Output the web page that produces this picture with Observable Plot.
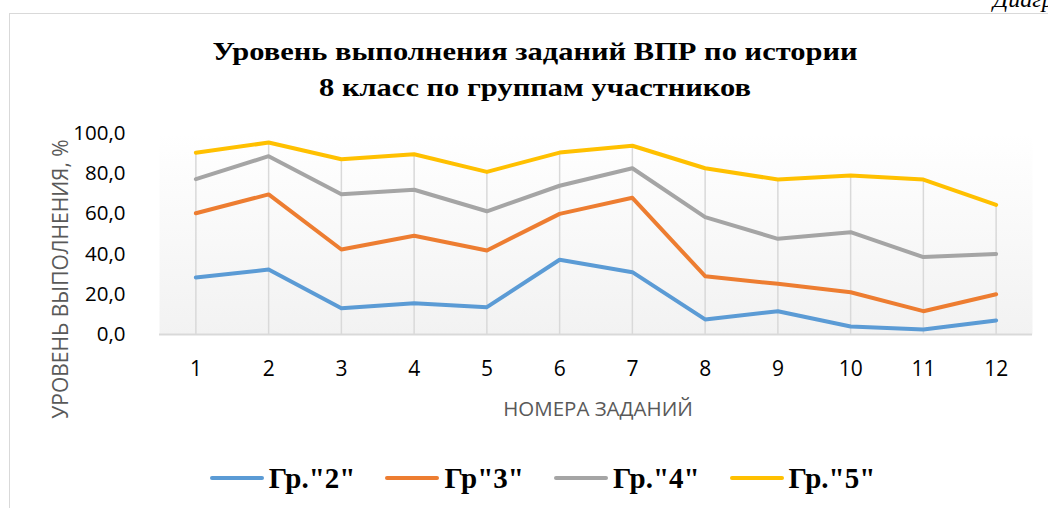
<!DOCTYPE html>
<html>
<head>
<meta charset="utf-8">
<script src="https://cdn.jsdelivr.net/npm/d3@7"></script>
<script src="https://cdn.jsdelivr.net/npm/@observablehq/plot@0.6"></script>
<style>
  html, body { margin: 0; padding: 0; background: #fff; }
  body { width: 1048px; height: 508px; position: relative; overflow: hidden; }
  #frame { position: absolute; left: 9px; top: 13px; width: 1100px; height: 600px; border: 1.5px solid #d9d9d9; box-sizing: border-box; }
  #corner { position: absolute; left: 993px; top: -14px; font: italic 24px "Liberation Serif", serif; color: #000; white-space: nowrap; }
  #title { position: absolute; left: 0; top: 34px; width: 1070px; text-align: center; font: bold 25px/36px "Liberation Serif", serif; color: #000; transform: scaleX(1.22); transform-origin: 535px 0; }
  #chart { position: absolute; left: 0; top: 100px; }
  #ytitle { position: absolute; left: -140px; top: 267px; width: 400px; text-align: center; font: 21px/24px "Open Sans", sans-serif; color: #595959; transform: rotate(-90deg); transform-origin: 200px 12px; white-space: nowrap; }
  #xtitle { position: absolute; left: 398px; top: 396px; width: 400px; text-align: center; font: 20.5px/24px "Open Sans", sans-serif; color: #595959; white-space: nowrap; }
  #legend { position: absolute; left: 4px; top: 459px; width: 1077px; display: flex; justify-content: center; gap: 30px; font: bold 29px/38px "Liberation Serif", serif; color: #000; }
  .item { display: flex; align-items: center; }
  .swatch { width: 54px; height: 4px; border-radius: 2px; margin-right: 5px; }
</style>
</head>
<body>
<div id="frame"></div>
<div id="corner">Диаграмма</div>
<div id="title">Уровень выполнения заданий ВПР по истории<br>8 класс по группам участников</div>
<div id="chart"></div>
<div id="ytitle"></div>
<div id="xtitle"></div>
<div id="legend"></div>
<script>
const tasks = ["1","2","3","4","5","6","7","8","9","10","11","12"];
const groups = ['Гр."2"', 'Гр"3"', 'Гр."4"', 'Гр."5"'];
const colors = ["#5B9BD5", "#ED7D31", "#A5A5A5", "#FFC000"];
const gr2 = [28.4, 32.3, 13.1, 15.6, 13.6, 37.2, 31.0, 7.5, 11.6, 4.0, 2.5, 7.0];
const gr3 = [60.3, 69.7, 42.3, 49.1, 41.8, 60.0, 68.0, 29.0, 25.2, 21.0, 11.6, 20.0];
const gr4 = [77.3, 88.7, 69.8, 72.0, 61.3, 74.0, 82.7, 58.4, 47.6, 50.9, 38.5, 40.1];
const gr5 = [90.4, 95.5, 87.2, 89.7, 80.9, 90.5, 93.9, 82.7, 77.1, 79.1, 77.1, 64.5];
const yTicks = [0, 20, 40, 60, 80, 100];
const yTitle = "УРОВЕНЬ ВЫПОЛНЕНИЯ, %";
const xTitle = "НОМЕРА ЗАДАНИЙ";

const series = [gr2, gr3, gr4, gr5];
const data = [];
series.forEach((vals, gi) => vals.forEach((v, i) => data.push({task: tasks[i], group: groups[gi], value: v})));
const drops = tasks.map((t, i) => ({task: t, top: d3.max(series, s => s[i])}));

const chart = Plot.plot({
  width: 1048,
  height: 340,
  marginLeft: 159,
  marginRight: 16,
  marginTop: 33,
  marginBottom: 106,
  style: {fontFamily: "'Open Sans', sans-serif", background: "transparent", overflow: "visible"},
  x: {type: "point", domain: tasks, padding: 0.5, round: false, axis: null},
  y: {domain: [0, 100], axis: null},
  color: {domain: groups, range: colors},
  marks: [
    Plot.frame({fill: "url(#bgGrad)", stroke: null}),
    Plot.ruleX(drops, {x: "task", y1: 0, y2: "top", stroke: "#d9d9d9", strokeWidth: 1.5}),
    Plot.ruleY([0], {stroke: "#d9d9d9", strokeWidth: 2}),
    Plot.axisX({tickSize: 0, tickPadding: 27, fontSize: 21, color: "#000", label: null}),
    Plot.axisY({ticks: yTicks, tickSize: 0, tickPadding: 34, fontSize: 20.5, color: "#000", label: null,
      tickFormat: d => d.toFixed(1).replace(".", ",")}),
    Plot.line(data, {x: "task", y: "value", z: "group", stroke: "group", strokeWidth: 4,
      strokeLinecap: "round", strokeLinejoin: "round"})
  ]
});

const svg = d3.select(chart.tagName.toLowerCase() === "svg" ? chart : chart.querySelector("svg"));
const grad = svg.insert("defs", ":first-child").append("linearGradient")
  .attr("id", "bgGrad").attr("x1", 0).attr("y1", 0).attr("x2", 0).attr("y2", 1);
grad.append("stop").attr("offset", "0%").attr("stop-color", "#ffffff");
grad.append("stop").attr("offset", "100%").attr("stop-color", "#f2f2f2");

document.getElementById("chart").appendChild(chart);
document.getElementById("ytitle").textContent = yTitle;
document.getElementById("xtitle").textContent = xTitle;

const legend = d3.select("#legend");
groups.forEach((g, i) => {
  const it = legend.append("div").attr("class", "item");
  it.append("span").attr("class", "swatch").style("background", colors[i]);
  it.append("span").text(g);
});
</script>
</body>
</html>
